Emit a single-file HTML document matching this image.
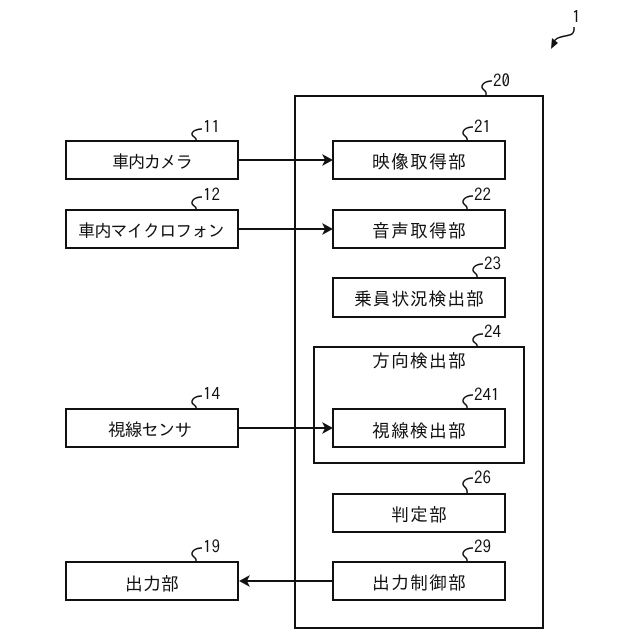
<!DOCTYPE html>
<html><head><meta charset="utf-8"><style>
html,body{margin:0;padding:0;background:#fff}
svg{display:block}
text{font-family:"IPAGothic","Noto Sans CJK JP","Liberation Sans",sans-serif;fill:#111}
.l{font-size:18px}
.m{font-size:17.5px}
.n{font-size:17px}
rect{fill:none;stroke:#111;stroke-width:2}
.c{fill:none;stroke:#111;stroke-width:1.5}
.a{fill:none;stroke:#111;stroke-width:2}
</style></head><body>
<svg width="640" height="640" viewBox="0 0 640 640" xmlns="http://www.w3.org/2000/svg">
<rect x="295" y="96" width="248" height="532"/>
<rect x="314" y="347" width="210" height="116"/>
<rect x="66" y="141" width="172" height="38"/>
<rect x="66" y="210" width="172" height="38"/>
<rect x="66" y="409" width="172" height="38"/>
<rect x="66" y="562" width="172" height="38"/>
<rect x="333" y="141" width="172" height="38"/>
<rect x="333" y="210" width="172" height="38"/>
<rect x="333" y="278" width="172" height="39"/>
<rect x="333" y="409" width="172" height="38"/>
<rect x="333" y="494" width="172" height="38"/>
<rect x="333" y="562" width="172" height="38"/>

<path class="a" d="M239 160H325M239 229H325M239 428H325M333 581H247"/>
<path fill="#111" d="M333 160L322 154L325 160L322 166ZM333 229L322 223L325 229L322 235ZM333 428L322 422L325 428L322 434ZM239 581L250 575L247 581L250 587Z"/>

<text class="m" x="112" y="168" textLength="81" lengthAdjust="spacing">車内カメラ</text>
<text class="m" x="78" y="237" textLength="147" lengthAdjust="spacing">車内マイクロフォン</text>
<text class="m" x="108" y="436" textLength="84" lengthAdjust="spacing">視線センサ</text>
<text class="l" x="125" y="590" textLength="54" lengthAdjust="spacing">出力部</text>
<text class="l" x="372" y="168" textLength="94" lengthAdjust="spacing">映像取得部</text>
<text class="l" x="372" y="237" textLength="94" lengthAdjust="spacing">音声取得部</text>
<text class="l" x="354" y="305" textLength="130" lengthAdjust="spacing">乗員状況検出部</text>
<text class="l" x="372" y="367" textLength="94" lengthAdjust="spacing">方向検出部</text>
<text class="l" x="372" y="437" textLength="94" lengthAdjust="spacing">視線検出部</text>
<text class="l" x="391" y="521" textLength="56" lengthAdjust="spacing">判定部</text>
<text class="l" x="372" y="589" textLength="94" lengthAdjust="spacing">出力制御部</text>

<path class="c" d="M202 129C197 129 192 131 192 134C192 137 197 137 196 141"/>
<path class="c" d="M202 197C197 197 192 199 192 203C192 206 197 206 196 210"/>
<path class="c" d="M202 396C197 396 192 398 192 402C192 405 197 405 196 409"/>
<path class="c" d="M202 548C197 548 192 550 192 554C192 557 197 557 196 562"/>
<path class="c" d="M492 81C487 81 482 83 482 87C482 90 487 90 486 95"/>
<path class="c" d="M473 127C468 127 463 129 463 133C463 136 468 136 467 141"/>
<path class="c" d="M473 196C468 196 463 198 463 202C463 205 468 205 467 210"/>
<path class="c" d="M483 264C478 264 473 266 473 270C473 273 478 273 477 278"/>
<path class="c" d="M483 334C478 334 473 336 473 340C473 343 478 343 477 347"/>
<path class="c" d="M473 395C468 395 463 397 463 401C463 404 468 404 467 409"/>
<path class="c" d="M473 478C468 478 463 480 463 484C463 487 468 487 467 494"/>
<path class="c" d="M473 548C468 548 463 550 463 554C463 557 468 557 467 562"/>

<text class="n" x="203" y="133">11</text>
<text class="n" x="203" y="201">12</text>
<text class="n" x="203" y="400">14</text>
<text class="n" x="203" y="553">19</text>
<text class="n" x="493" y="87">20</text>
<text class="n" x="474" y="133">21</text>
<text class="n" x="474" y="201">22</text>
<text class="n" x="484" y="270">23</text>
<text class="n" x="484" y="338">24</text>
<text class="n" x="474" y="401">241</text>
<text class="n" x="474" y="484">26</text>
<text class="n" x="474" y="553">29</text>
<text class="n" x="572" y="23">1</text>

<path class="c" d="M574 27C575 38 566 34 558 38C556 39 554 41 553 43"/>
<path fill="#111" d="M551 49L552 38L558 43Z"/>
</svg>
</body></html>
